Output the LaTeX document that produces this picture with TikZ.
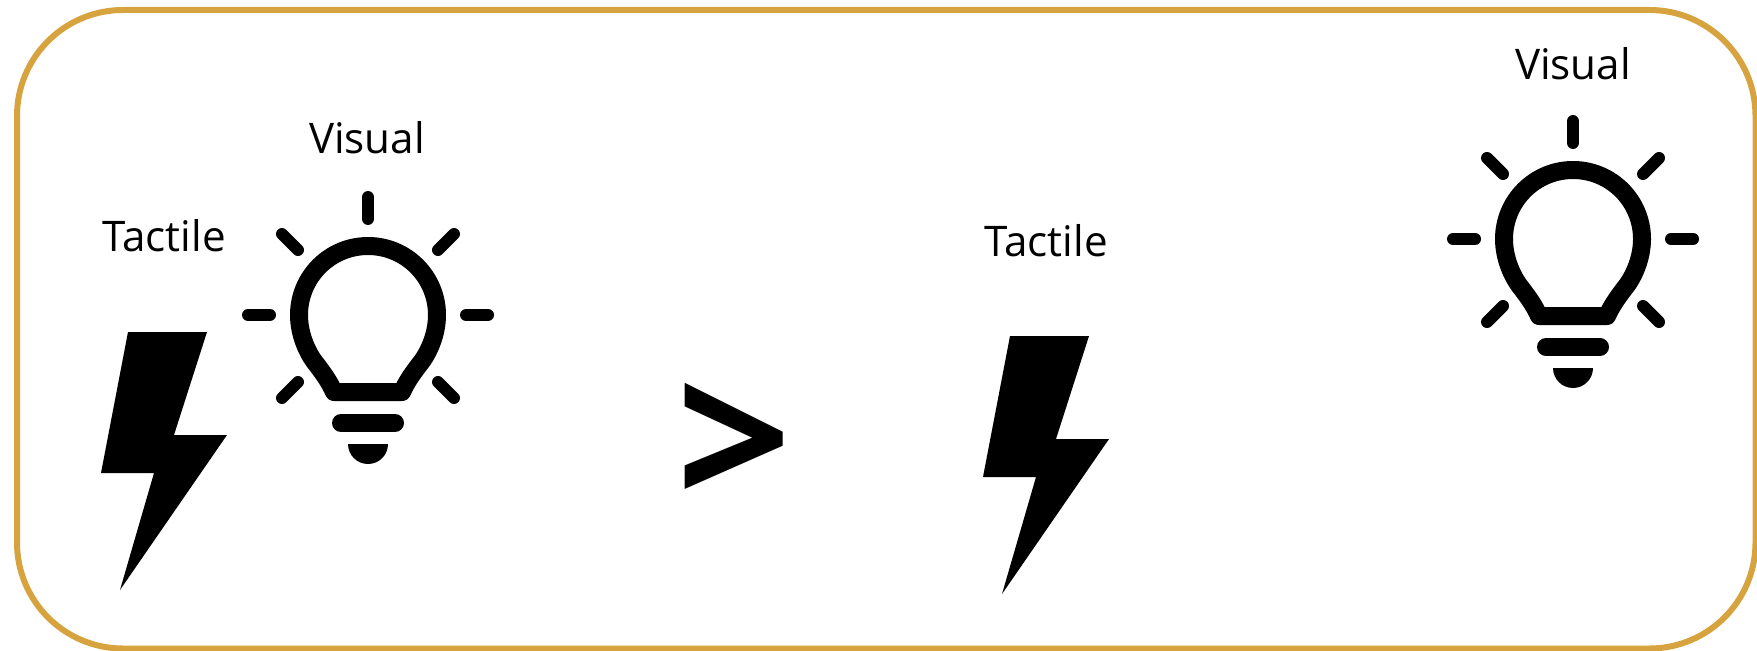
\documentclass[tikz,border=0pt]{standalone}
\usepackage{fontspec}
\setmainfont{Open Sans}
\usepackage{tikz}
\definecolor{framegold}{RGB}{214,163,62}
\tikzset{
  label text/.style={inner sep=0pt,font=\fontsize{24}{29}\selectfont},
  ray/.style={line width=12*0.02cm,line cap=round},
  bulb/.pic={
    \draw[line width=18*0.02cm,line join=round]
      (-34,-77) -- (34,-77) .. controls (39,-66) and (45,-58) .. (51,-50)
      .. controls (61,-38) and (69,-19) .. (69,0)
      arc[start angle=0,end angle=180,radius=69]
      .. controls (-69,-19) and (-61,-38) .. (-51,-50)
      .. controls (-45,-58) and (-39,-66) .. (-34,-77) -- cycle;
    \foreach \a/\b/\c/\d in {0/118/0/96,-120/0/-98/0,120/0/98/0,
      -86/81/-70/65,86/81/70/65,-86/-83/-70/-67,86/-83/70/-67}
      \draw[ray] (\a,\b) -- (\c,\d);
    \draw[line width=18*0.02cm,line cap=round] (-27,-108) -- (27,-108);
    \fill (-20,-129) arc[start angle=180,end angle=360,radius=20] -- cycle;
  },
  bolt/.pic={
    \fill (0,0) -- (79,0) -- (46,-103) -- (99,-103) -- (-8,-258)
      -- (26,-141) -- (-27,-141) -- cycle;
  }
}
\begin{document}
\begin{tikzpicture}[x=0.02cm,y=0.02cm]
  \useasboundingbox (0,0) rectangle (1757,650);
  % frame
  \draw[framegold,line width=6*0.02cm,rounded corners=106*0.02cm] (17,1.5) rectangle (1755.5,640);
  % left pair
  \pic at (368,335) {bulb};
  \pic at (128,318) {bolt};
  \node[label text] (visualA) at (367,512) {Visual};
  \node[label text] (tactileA) at (164,414) {Tactile};
  % comparison
  \node[inner sep=0pt,font=\bfseries\fontsize{115}{115}\selectfont] (cmp) at (734,204) {>};
  % right pair
  \pic at (1573,411) {bulb};
  \pic at (1010,314) {bolt};
  \node[label text] (visualB) at (1573,586) {Visual};
  \node[label text] (tactileB) at (1046,409) {Tactile};
\end{tikzpicture}
\end{document}
